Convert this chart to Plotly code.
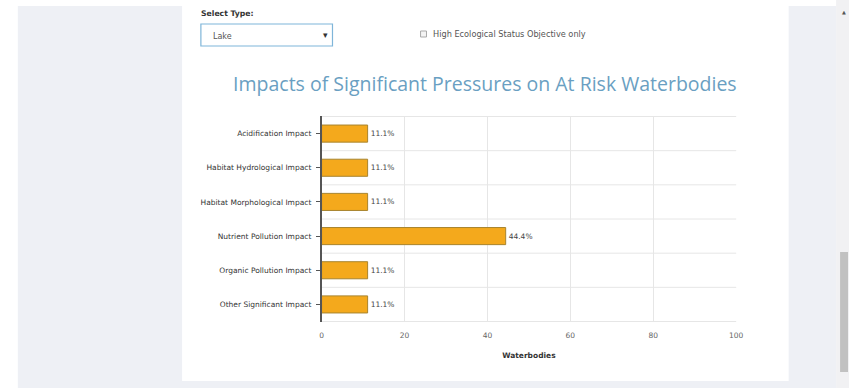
import plotly.graph_objects as go

categories = [
    "Acidification Impact",
    "Habitat Hydrological Impact",
    "Habitat Morphological Impact",
    "Nutrient Pollution Impact",
    "Organic Pollution Impact",
    "Other Significant Impact",
]
values = [11.1, 11.1, 11.1, 44.4, 11.1, 11.1]
x_ticks = [0, 20, 40, 60, 80, 100]
title_text = "Impacts of Significant Pressures on At Risk Waterbodies"
x_title = "Waterbodies"
select_label = "Select Type:"
select_value = "Lake"
checkbox_label = "High Ecological Status Objective only"

W, H = 856, 388
PL, PR, PT, PB = 323, 742, 116, 322  # plot area in pixels


def px(x):
    return x / W


def py(y):
    return 1 - y / H


FONT = "DejaVu Sans"

fig = go.Figure()
fig.add_trace(go.Bar(
    y=categories,
    x=values,
    orientation="h",
    marker=dict(color="#F4A91C", line=dict(color="#A8842E", width=1)),
    text=[f"{v:.1f}%" for v in values],
    textposition="outside",
    textfont=dict(family=FONT, size=7.5, color="#444"),
    cliponaxis=False,
    width=0.5,
    hoverinfo="skip",
))

shapes = []
# page background pieces
shapes.append(dict(type="rect", xref="paper", yref="paper", x0=px(16), x1=px(843), y0=py(388), y1=py(6),
                   fillcolor="#EEF0F5", line=dict(width=0), layer="below"))
shapes.append(dict(type="rect", xref="paper", yref="paper", x0=px(182), x1=px(795), y0=py(381), y1=py(6),
                   fillcolor="#FFFFFF", line=dict(width=0), layer="below"))
# scrollbar
shapes.append(dict(type="rect", xref="paper", yref="paper", x0=px(843), x1=px(856), y0=py(388), y1=py(0),
                   fillcolor="#F1F1F3", line=dict(width=0), layer="below"))
shapes.append(dict(type="rect", xref="paper", yref="paper", x0=px(847), x1=px(855), y0=py(372), y1=py(252),
                   fillcolor="#C1C1C1", line=dict(width=0), layer="below"))
# dropdown
shapes.append(dict(type="rect", xref="paper", yref="paper", x0=px(201), x1=px(334), y0=py(46), y1=py(24),
                   fillcolor="#FFFFFF", line=dict(color="#7FB5D9", width=1.2), layer="below"))
# checkbox
shapes.append(dict(type="rect", xref="paper", yref="paper", x0=px(423), x1=px(429), y0=py(37), y1=py(31),
                   fillcolor="#F4F4F4", line=dict(color="#A9A9A9", width=1), layer="below"))
# horizontal grid lines at category boundaries
for i in range(len(categories) + 1):
    shapes.append(dict(type="line", xref="paper", yref="y", x0=px(PL), x1=px(PR),
                       y0=i - 0.5, y1=i - 0.5, line=dict(color="#E6E6E6", width=1), layer="below"))

annotations = [
    dict(text=f"<b>{select_label}</b>", x=px(199), y=py(14), xref="paper", yref="paper",
         xanchor="left", yanchor="middle", showarrow=False, font=dict(family=FONT, size=7.7, color="#333")),
    dict(text=select_value, x=px(211), y=py(36), xref="paper", yref="paper",
         xanchor="left", yanchor="middle", showarrow=False, font=dict(family=FONT, size=8, color="#555")),
    dict(text="▾", x=px(327), y=py(35), xref="paper", yref="paper",
         xanchor="center", yanchor="middle", showarrow=False, font=dict(family=FONT, size=9, color="#333")),
    dict(text=checkbox_label, x=px(434), y=py(34), xref="paper", yref="paper",
         xanchor="left", yanchor="middle", showarrow=False, font=dict(family=FONT, size=8.2, color="#555")),
    dict(text="▲", x=px(851), y=py(12), xref="paper", yref="paper",
         xanchor="center", yanchor="middle", showarrow=False, font=dict(family=FONT, size=5, color="#555")),
]

fig.update_layout(
    width=W, height=H, autosize=False,
    margin=dict(l=0, r=0, t=0, b=0),
    paper_bgcolor="#FFFFFF",
    plot_bgcolor="rgba(0,0,0,0)",
    showlegend=False,
    title=dict(text=title_text, x=488 / W, y=py(84), xref="paper", yref="paper",
               xanchor="center", yanchor="middle",
               font=dict(family="Open Sans", size=19.5, color="#6A9FC2")),
    xaxis=dict(domain=[PL / W, PR / W], range=[0, 100], tickvals=x_ticks,
               showgrid=True, gridcolor="#E6E6E6", gridwidth=1, zeroline=False,
               showline=False, ticks="outside", ticklen=6, tickcolor="rgba(0,0,0,0)",
               tickfont=dict(family=FONT, size=7.5, color="#666"),
               title=dict(text=f"<b>{x_title}</b>", font=dict(family=FONT, size=7.5, color="#333"), standoff=13),
               fixedrange=True),
    yaxis=dict(domain=[py(PB), py(PT)], categoryorder="array", categoryarray=categories,
               autorange="reversed", showgrid=False, zeroline=False,
               showline=True, linecolor="#555", linewidth=1.5,
               ticks="outside", ticklen=4, tickcolor="#555", ticklabelstandoff=3,
               tickfont=dict(family=FONT, size=7.5, color="#333"), fixedrange=True),
    shapes=shapes,
    annotations=annotations,
    bargap=0.5,
)

fig.write_html(
    "out.html",
    post_script="document.body.style.margin='0';",
)
